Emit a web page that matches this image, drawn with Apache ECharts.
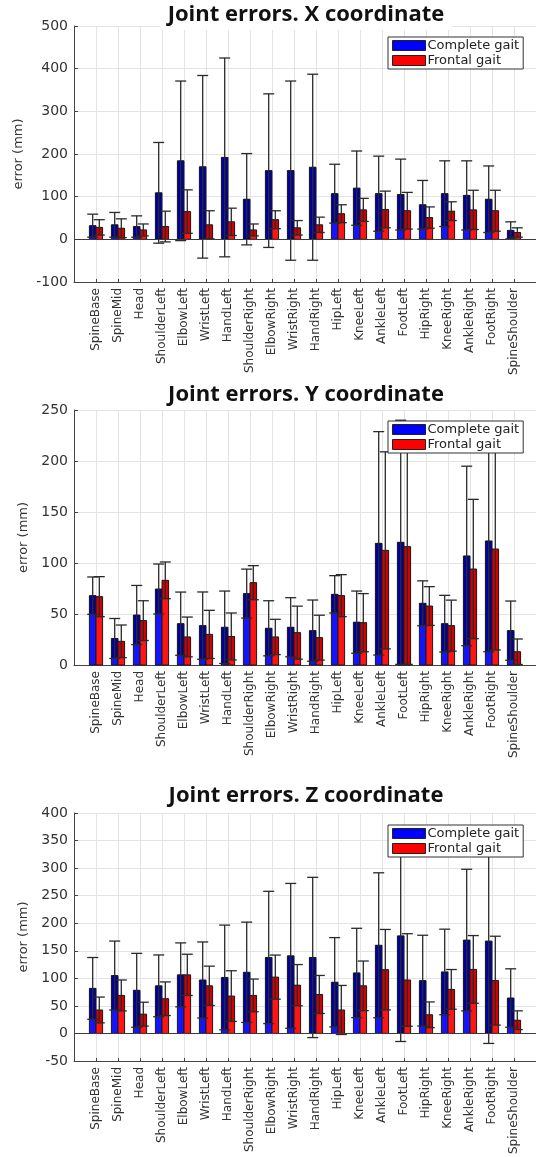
<!DOCTYPE html>
<html>
<head>
<meta charset="utf-8">
<script src="https://cdn.jsdelivr.net/npm/echarts/dist/echarts.min.js"></script>
<style>
  html, body { margin: 0; padding: 0; background: #fff; }
  #chart { width: 536px; height: 1157px; }
</style>
</head>
<body>
<div id="chart"></div>
<script>
// joint names (x categories)
const joints = ['SpineBase', 'SpineMid', 'Head', 'ShoulderLeft', 'ElbowLeft', 'WristLeft', 'HandLeft',
  'ShoulderRight', 'ElbowRight', 'WristRight', 'HandRight', 'HipLeft', 'KneeLeft', 'AnkleLeft',
  'FootLeft', 'HipRight', 'KneeRight', 'AnkleRight', 'FootRight', 'SpineShoulder']

// X coordinate: mean error and std (mm)
const completeX = [32, 34, 30, 109, 184, 170, 192, 94, 161, 161, 169, 107, 120, 107, 105, 81, 107, 103, 94, 21]
const completeXStd = [27, 29, 25, 118, 187, 214, 233, 107, 180, 210, 218, 69, 87, 88, 83, 57, 77, 81, 78, 20]
const frontalX = [28, 26, 22, 30, 65, 34, 41, 22, 46, 27, 34, 60, 69, 70, 67, 51, 66, 69, 67, 16]
const frontalXStd = [18, 22, 14, 36, 51, 33, 32, 14, 21, 17, 18, 21, 27, 43, 43, 25, 22, 46, 48, 11]

// Y coordinate
const completeY = [68, 26, 49, 74.5, 40.5, 38.6, 37, 70, 36, 37, 33.7, 69.3, 42, 119.3, 120.3, 60.5, 40.5, 106.9, 121.6, 33.7]
const completeYStd = [18.3, 19.6, 29, 24.5, 31, 33, 35.5, 24, 27, 29, 30, 18.3, 30.5, 109.5, 119.7, 22, 27.8, 88, 108.6, 29]
const frontalY = [67, 23.2, 43.5, 83, 27.5, 30, 28, 80.7, 27.5, 31.7, 26.8, 68, 41.5, 112.4, 116, 57.8, 38.6, 94.1, 113.7, 13]
const frontalYStd = [19.6, 16, 19.5, 18, 19.5, 23.6, 23, 16.7, 17.3, 26, 22, 20.6, 28.5, 96.6, 115.4, 19, 25, 68.3, 99, 12.5]

// Z coordinate
const completeZ = [81.8, 105, 78.3, 86.4, 106.3, 97, 101.6, 111, 137.9, 140.8, 137.9, 92.9, 109.8, 160, 177, 95.8, 111.6, 169.4, 167.6, 64.3]
const completeZStd = [56, 62.6, 67, 56, 58, 69, 95, 91, 120, 131.4, 145.4, 81, 81, 131.5, 191.6, 82.4, 77.6, 128.5, 185.7, 53]
const frontalZ = [42.6, 69, 35, 63, 106.3, 86.4, 67.8, 69, 102.2, 87.6, 70.7, 42.6, 86.4, 115.7, 97, 33.9, 80, 116.2, 95.8, 24]
const frontalZStd = [23.4, 28, 21.7, 30.5, 37.4, 35.7, 46, 29.7, 40, 37.4, 34.5, 44.5, 45, 73, 84, 23.3, 36, 61.4, 80.6, 17]

const titles = ['Joint errors. X coordinate', 'Joint errors. Y coordinate', 'Joint errors. Z coordinate']
const yMin = [-100, 0, -50]
const yMax = [500, 250, 400]
const yStep = [100, 50, 50]

const panels = [
  { complete: completeX, completeStd: completeXStd, frontal: frontalX, frontalStd: frontalXStd },
  { complete: completeY, completeStd: completeYStd, frontal: frontalY, frontalStd: frontalYStd },
  { complete: completeZ, completeStd: completeZStd, frontal: frontalZ, frontalStd: frontalZStd }
]

const gridTops = [26, 410, 813]
const gridHeights = [256, 255, 257]
const legendTops = [37, 421, 825]
const titleCenters = [15, 395, 796]

const FONT = 'DejaVu Sans'

function toData (mean, std) {
  return mean.map((m, i) => [i + 1, m, std[i]])
}

// bar with darker part between (mean - std) and mean
function barRender (side, light, dark) {
  return function (params, api) {
    const x = api.value(0)
    const m = api.value(1)
    const s = api.value(2)
    const band = api.size([1, 0])[0]
    const w = band * 0.3
    const c = api.coord([x, 0])
    const left = c[0] + side * w / 2 - w / 2
    const base = c[1]
    const top = api.coord([x, m])[1]
    const low = api.coord([x, Math.max(m - s, 0)])[1]
    return {
      type: 'group',
      children: [
        { type: 'rect', shape: { x: left, y: top, width: w, height: base - top }, style: { fill: light } },
        { type: 'rect', shape: { x: left, y: top, width: w, height: low - top }, style: { fill: dark } },
        { type: 'rect', shape: { x: left, y: top, width: w, height: base - top }, style: { fill: 'none', stroke: '#1a1a1a', lineWidth: 1 } }
      ]
    }
  }
}

function errRender (side) {
  return function (params, api) {
    const x = api.value(0)
    const m = api.value(1)
    const s = api.value(2)
    const band = api.size([1, 0])[0]
    const w = band * 0.3
    const cx = api.coord([x, 0])[0] + side * w / 2
    const hi = api.coord([x, m + s])[1]
    const lo = api.coord([x, m - s])[1]
    const cap = 5.5
    const st = { stroke: '#2a2a2a', lineWidth: 1.3 }
    return {
      type: 'group',
      children: [
        { type: 'line', shape: { x1: cx, y1: hi, x2: cx, y2: lo }, style: st },
        { type: 'line', shape: { x1: cx - cap, y1: hi, x2: cx + cap, y2: hi }, style: st },
        { type: 'line', shape: { x1: cx - cap, y1: lo, x2: cx + cap, y2: lo }, style: st }
      ]
    }
  }
}

const chartInstance = echarts.init(document.getElementById('chart'))

const option = {
  animation: false,
  backgroundColor: '#fff',
  title: [],
  legend: [],
  grid: [],
  xAxis: [],
  yAxis: [],
  series: []
}

panels.forEach((p, i) => {
  option.title.push({
    text: titles[i],
    left: 298,
    textAlign: 'center',
    top: titleCenters[i] - 14,
    padding: [3, 8, 4, 8],
    backgroundColor: '#fff',
    textStyle: { fontFamily: 'Open Sans', fontWeight: 'bold', fontSize: 22, color: '#111' }
  })
  option.legend.push({
    data: ['Complete gait', 'Frontal gait'],
    orient: 'vertical',
    left: 388,
    top: legendTops[i],
    icon: 'rect',
    itemWidth: 33,
    itemHeight: 10,
    itemGap: 2,
    padding: [2, 4, 2, 4],
    backgroundColor: '#fff',
    borderColor: '#333',
    borderWidth: 1,
    borderRadius: 0,
    itemStyle: { borderColor: '#222', borderWidth: 1 },
    textStyle: { fontFamily: FONT, fontSize: 13, color: '#222', lineHeight: 13, padding: [0, 0, 0, -3] },
    z: 10
  })
  option.grid.push({ left: 74, width: 463, top: gridTops[i], height: gridHeights[i] })
  option.xAxis.push({
    type: 'value',
    gridIndex: i,
    min: 0,
    max: 21,
    interval: 1,
    axisLine: { onZero: false, lineStyle: { color: '#444', width: 1 } },
    axisTick: { inside: true, length: 3, lineStyle: { color: '#444' } },
    splitLine: { show: true, lineStyle: { color: '#e4e4e4' } },
    axisLabel: {
      rotate: 90,
      margin: 6,
      fontFamily: FONT,
      fontSize: 12,
      color: '#333',
      formatter: v => joints[v - 1] || ''
    }
  })
  option.yAxis.push({
    type: 'value',
    gridIndex: i,
    min: yMin[i],
    max: yMax[i],
    interval: yStep[i],
    name: 'error (mm)',
    nameLocation: 'middle',
    nameGap: 41,
    nameTextStyle: { fontFamily: FONT, fontSize: 13, color: '#333' },
    axisLine: { show: true, lineStyle: { color: '#444', width: 1 } },
    axisTick: { show: true, inside: true, length: 4, lineStyle: { color: '#444' } },
    splitLine: { show: true, lineStyle: { color: '#e4e4e4' } },
    axisLabel: { margin: 6, fontFamily: FONT, fontSize: 14, color: '#333' }
  })
  option.series.push({
    name: 'Complete gait',
    type: 'custom',
    xAxisIndex: i,
    yAxisIndex: i,
    itemStyle: { color: '#0000ff' },
    renderItem: barRender(-1, '#1414ff', '#00009e'),
    data: toData(p.complete, p.completeStd),
    z: 2,
    markLine: yMin[i] < 0 ? {
      silent: true,
      symbol: 'none',
      label: { show: false },
      lineStyle: { color: '#3a3a3a', type: 'solid', width: 1.2 },
      data: [{ yAxis: 0 }]
    } : undefined
  })
  option.series.push({
    name: 'Frontal gait',
    type: 'custom',
    xAxisIndex: i,
    yAxisIndex: i,
    itemStyle: { color: '#ff0000' },
    renderItem: barRender(1, '#ff1414', '#d40000'),
    data: toData(p.frontal, p.frontalStd),
    z: 2
  })
  option.series.push({
    name: 'err-complete',
    type: 'custom',
    xAxisIndex: i,
    yAxisIndex: i,
    renderItem: errRender(-1),
    data: toData(p.complete, p.completeStd),
    z: 3
  })
  option.series.push({
    name: 'err-frontal',
    type: 'custom',
    xAxisIndex: i,
    yAxisIndex: i,
    renderItem: errRender(1),
    data: toData(p.frontal, p.frontalStd),
    z: 3
  })
})

chartInstance.setOption(option)
</script>
</body>
</html>
